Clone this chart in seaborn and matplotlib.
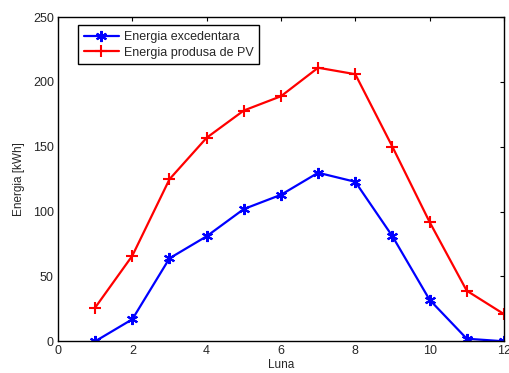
import matplotlib
matplotlib.use("Agg")
import matplotlib.pyplot as plt
import seaborn as sns

luna = [1, 2, 3, 4, 5, 6, 7, 8, 9, 10, 11, 12]
excedentara = [0, 17, 64, 81, 102, 113, 130, 123, 81, 32, 2, 0]
produsa_pv = [26, 66, 125, 157, 178, 189, 211, 206, 150, 92, 39, 21]
labels = ["Energia excedentara", "Energia produsa de PV"]
colors = ["#0000ff", "#ff0000"]
markers = [(6, 2, 0), "+"]

sns.set_style("white")
plt.rcParams["font.family"] = ["Liberation Sans", "DejaVu Sans"]
plt.rcParams["font.size"] = 9

fig, ax = plt.subplots(figsize=(5.09, 3.73), dpi=100)
fig.subplots_adjust(left=0.114, right=0.99, top=0.954, bottom=0.085)

for vals, lab, c, m in zip([excedentara, produsa_pv], labels, colors, markers):
    sns.lineplot(x=luna, y=vals, color=c, marker=m, label=lab, linewidth=1.6,
                 markersize=8, markeredgewidth=1.5, markeredgecolor=c,
                 markerfacecolor=c, ax=ax)

ax.set_xlim(0, 12)
ax.set_ylim(0, 250)
ax.set_xticks(range(0, 13, 2))
ax.set_yticks(range(0, 251, 50))
ax.set_xlabel("Luna", fontsize=8.5, labelpad=1)
ax.set_ylabel("Energia [kWh]", fontsize=8.5, labelpad=6)
ax.tick_params(direction="in", length=3, top=True, right=True, labelsize=9,
               color="black", pad=3)
for s in ax.spines.values():
    s.set_visible(True)
    s.set_color("black")
    s.set_linewidth(1.0)

leg = ax.legend(loc="upper left", bbox_to_anchor=(0.045, 0.975), fontsize=9,
                frameon=True, fancybox=False, edgecolor="black", framealpha=1,
                handlelength=2.8, handletextpad=0.4, borderpad=0.45,
                labelspacing=0.3, borderaxespad=0)
leg.get_frame().set_linewidth(1.0)

fig.savefig("out.png", dpi=100)
